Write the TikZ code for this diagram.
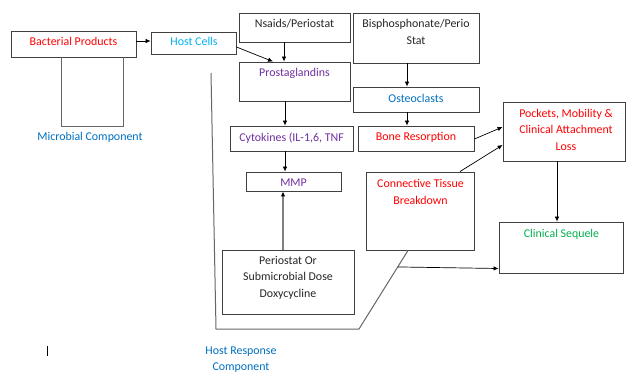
\documentclass[tikz,border=0pt]{standalone}
\usepackage{fontspec}
\setmainfont{Carlito}
\usetikzlibrary{arrows.meta,calc}
\definecolor{cred}{HTML}{FF0000}
\definecolor{cblue}{HTML}{00B0F0}
\definecolor{cdblue}{HTML}{0070C0}
\definecolor{cpurple}{HTML}{7030A0}
\definecolor{cgreen}{HTML}{00B050}
\definecolor{cline}{HTML}{404040}
\begin{document}
\begin{tikzpicture}[x=1pt,y=-1pt,
  box/.style={draw=cline, line width=0.9pt, inner sep=0pt},
  txt/.style={inner sep=0pt, align=center, font=\fontsize{11.9}{16.5}\selectfont},
  arr/.style={-{Latex[length=5pt,width=4.5pt]}, line width=0.7pt, black},
  grayln/.style={draw=cline!80, line width=1pt}]
\useasboundingbox[fill=white] (0,0) rectangle (626,375);

% boxes
\node[box, minimum width=125pt, minimum height=26pt] (bact)  at (73.5,44) {};
\node[box, minimum width=85pt,  minimum height=22pt] (host)  at (193.5,43) {};
\node[box, minimum width=111pt, minimum height=29pt] (nsaid) at (294.5,27.5) {};
\node[box, minimum width=111pt, minimum height=39pt] (prost) at (294.5,81.5) {};
\node[box, minimum width=123pt, minimum height=25pt] (cyto)  at (291.5,138.5) {};
\node[box, minimum width=95pt,  minimum height=19pt] (mmp)   at (293.5,181.5) {};
\node[box, minimum width=132pt, minimum height=64pt] (perio) at (288,282) {};
\node[box, minimum width=126pt, minimum height=50pt] (bisph) at (416,38) {};
\node[box, minimum width=126pt, minimum height=25pt] (osteo) at (416,99.5) {};
\node[box, minimum width=116pt, minimum height=25pt] (bone)  at (416,138.5) {};
\node[box, minimum width=108pt, minimum height=78pt] (conn)  at (420,211) {};
\node[box, minimum width=122pt, minimum height=59pt] (pock)  at (564,131.5) {};
\node[box, minimum width=124pt, minimum height=51pt] (clin)  at (561,247.5) {};

% texts
\node[txt, text=cred]    (bactT)  at (73.5,41)  {Bacterial Products};
\node[txt, text=cblue]   (hostT)  at (194,41)   {Host Cells};
\node[txt, text=black!85](nsaidT) at (294.5,24) {Nsaids/Periostat};
\node[txt, text=cpurple] (prostT) at (294.5,73) {Prostaglandins};
\node[txt, text=cpurple] (cytoT)  at (291.5,138){Cytokines (IL-1,6, TNF};
\node[txt, text=cpurple] (mmpT)   at (293.5,183){MMP};
\node[txt, text=black!85](perioT) at (288,277.5){Periostat Or\\Submicrobial Dose\\Doxycycline};
\node[txt, text=black!85](bisphT) at (416,32)   {Bisphosphonate/Perio\\Stat};
\node[txt, text=cdblue]  (osteoT) at (416,98)   {Osteoclasts};
\node[txt, text=cred]    (boneT)  at (416,137)  {Bone Resorption};
\node[txt, text=cred]    (connT)  at (420.5,192){Connective Tissue\\Breakdown};
\node[txt, text=cred]    (pockT)  at (566,129.5){Pockets, Mobility \&\\Clinical Attachment\\Loss};
\node[txt, text=cgreen]  (clinT)  at (561.5,234){Clinical Sequele};
\node[txt, text=cdblue]  (microT) at (90,137)   {Microbial Component};
\node[txt, text=cdblue]  (hostrT) at (241,359.5){Host Response\\Component};

% microbial bracket
\draw[grayln] ([xshift=-12.5pt]bact.south) -- ++(0,69) -- ++(62,0) -- ([xshift=49.5pt]bact.south);

% host response bracket
\coordinate (hr1) at (211,73);
\coordinate (hr2) at (216,329);
\coordinate (hr3) at (359,329);
\coordinate (hr5) at ([xshift=-12pt]conn.south);
\draw[grayln] (hr1) -- (hr2) -- (hr3) -- (hr5);
\coordinate (hr4) at ($(hr3)!0.79!(hr5)$);

% connectors
\draw[arr] ([yshift=3pt]bact.east) -- ([yshift=3pt]bact.east -| host.west);
\draw[arr] ([yshift=-4pt]host.east) -- ([xshift=-21.5pt]prost.north);
\draw[arr] ([xshift=-10.5pt]nsaid.south) -- ([xshift=-10.5pt]prost.north);
\draw[arr] ([xshift=-9.5pt]prost.south) -- ([xshift=-9.5pt]prost.south |- cyto.north);
\draw[arr] ([xshift=-6.5pt]cyto.south) -- ([xshift=-6.5pt]cyto.south |- mmp.north);
\draw[-{Latex[length=5pt,width=4.5pt,color=black]}, draw=black!50, line width=1.4pt] ([xshift=-5pt]perio.north) -- ([xshift=-5pt]perio.north |- mmp.south);
\draw[arr] ([xshift=-9pt]bisph.south) -- ([xshift=-9pt]osteo.north);
\draw[arr] ([xshift=-9pt]osteo.south) -- ([xshift=-9pt]bone.north);
\draw[arr] ([yshift=-0.5pt]bone.east) -- ([yshift=4.5pt]pock.west);
\draw[arr] ([xshift=40pt]conn.north) -- ([yshift=-13.5pt]pock.west);
\draw[arr] ([xshift=-7pt]pock.south) -- ([xshift=-7pt]pock.south |- clin.north);
\draw[arr] (hr4) -- ([yshift=-21pt]clin.west);

% cursor mark
\coordinate (cur1) at (47,346);
\coordinate (cur2) at (47,356);
\draw[black, line width=0.8pt] (cur1) -- (cur2);
\end{tikzpicture}
\end{document}
